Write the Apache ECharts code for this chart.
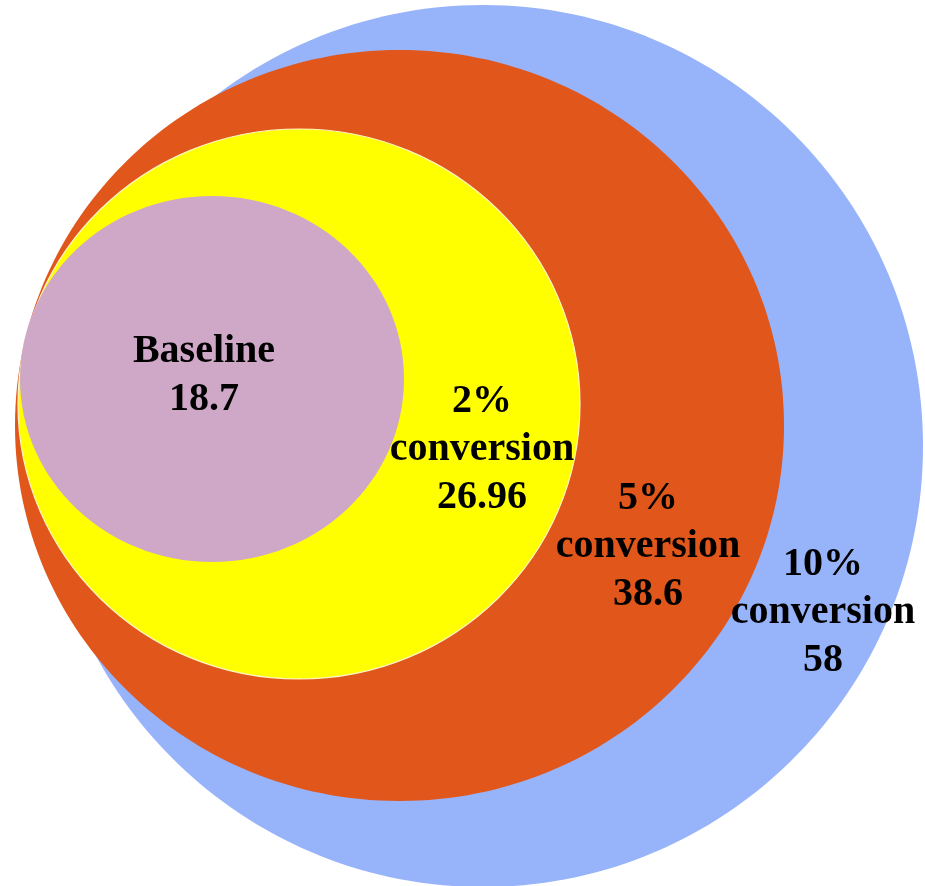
<!DOCTYPE html>
<html>
<head>
<meta charset="utf-8">
<title>Conversion scenarios</title>
<script src="https://cdn.jsdelivr.net/npm/echarts@6/dist/echarts.min.js"></script>
<style>
  html, body { margin: 0; padding: 0; background: #ffffff; }
  #chart { width: 925px; height: 886px; }
</style>
</head>
<body>
<div id="chart"></div>
<script>
// Scenario names and their values
const categories = ['Baseline', '2%\nconversion', '5%\nconversion', '10%\nconversion'];
const values = [18.7, 26.96, 38.6, 58];

// Fill colour for each scenario
const colors = ['#CFA8C8', '#FFFF00', '#E0561B', '#97B3FA'];

// Ellipse layout in plane units: [centerX, centerY, radiusX, radiusY]
const ellipseLayout = [
  [212, 379, 192, 183],
  [299, 404, 281, 275],
  [399.5, 425.5, 384.5, 375.5],
  [483, 446, 440, 441]
];

// Where each scenario's label block is centred, in plane units
const labelAnchor = [
  [204, 376],
  [482, 450],
  [648, 547],
  [823, 613]
];

// Largest scenario is drawn first so the smaller ones sit on top of it
const order = values.map((v, i) => i).sort((a, b) => values[b] - values[a]);
const seriesData = order.map(i => ({
  name: categories[i],
  value: [ellipseLayout[i][0], ellipseLayout[i][1], ellipseLayout[i][2], ellipseLayout[i][3],
          labelAnchor[i][0], labelAnchor[i][1], values[i], i]
}));

const chart = echarts.init(document.getElementById('chart'), null, { renderer: 'canvas' });

chart.setOption({
  backgroundColor: '#ffffff',
  animation: false,
  grid: { left: 0, right: 0, top: 0, bottom: 0 },
  xAxis: { type: 'value', min: 0, max: 925, show: false },
  yAxis: { type: 'value', min: 0, max: 886, inverse: true, show: false },
  series: [{
    type: 'custom',
    coordinateSystem: 'cartesian2d',
    encode: { x: 0, y: 1 },
    data: seriesData,
    renderItem: function (params, api) {
      const idx = api.value(7);
      const c = api.coord([api.value(0), api.value(1)]);
      const s = api.size([api.value(2) * 2, api.value(3) * 2], [api.value(0), api.value(1)]);
      const l = api.coord([api.value(4), api.value(5)]);
      const isYellow = idx === 1;
      return {
        type: 'group',
        children: [
          {
            type: 'ellipse',
            shape: { cx: c[0], cy: c[1], rx: s[0] / 2, ry: s[1] / 2 },
            style: {
              fill: colors[idx],
              stroke: isYellow ? '#FFF6C2' : null,
              lineWidth: isYellow ? 1.2 : 0
            },
            z2: 0
          },
          {
            type: 'text',
            x: l[0],
            y: l[1],
            z2: 100,
            style: {
              text: categories[idx] + '\n' + api.value(6),
              fill: '#000000',
              fontFamily: '"Liberation Serif", "Times New Roman", serif',
              fontWeight: 'bold',
              fontSize: 40,
              lineHeight: 48,
              align: 'center',
              verticalAlign: 'middle'
            }
          }
        ]
      };
    }
  }]
});
</script>
</body>
</html>
